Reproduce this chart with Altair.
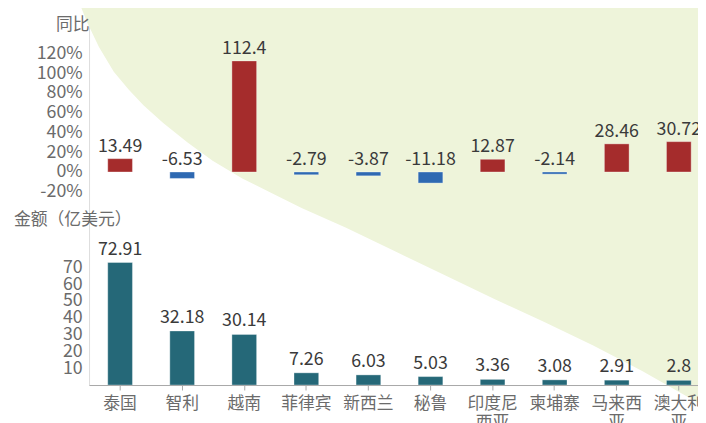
import altair as alt
import pandas as pd

countries = ["泰国", "智利", "越南", "菲律宾", "新西兰", "秘鲁", "印度尼西亚", "柬埔寨", "马来西亚", "澳大利亚"]
yoy = [13.49, -6.53, 112.4, -2.79, -3.87, -11.18, 12.87, -2.14, 28.46, 30.72]
amount = [72.91, 32.18, 30.14, 7.26, 6.03, 5.03, 3.36, 3.08, 2.91, 2.8]
yoy_ticks = [-20, 0, 20, 40, 60, 80, 100, 120]
amount_ticks = [10, 20, 30, 40, 50, 60, 70]

# decorative background curve (page pixels)
bg_x = [70, 80, 88, 100, 115, 130, 145, 165, 190, 215, 245, 275, 305, 350, 400, 450, 500, 550, 600, 650, 706, 730]
bg_y = [-10, 0, 20, 45, 70, 88, 104, 122, 142, 160, 178, 193, 208, 228, 252, 276, 300, 323, 347, 373, 405, 418]

FONT = "Noto Sans CJK SC"
RED, BLUE, TEAL = "#a52c2c", "#2e69b2", "#256878"
GREEN_BG = "#eef4da"
AX_COL = "#6b6b6b"
LBL_COL = "#3a3a3a"
W, H = 616, 379

df = pd.DataFrame({
    "country": countries,
    "yoy": yoy,
    "amount": amount,
    "yoy_label": [str(v) for v in yoy],
    "amt_label": [str(v) for v in amount],
})
df["yoy_pos"] = df["yoy"].clip(lower=0)
df["bar_color"] = [RED if v > 0 else BLUE for v in yoy]

bg = pd.DataFrame({"px": [x - 90 for x in bg_x], "py": [y - 8 for y in bg_y]})

band_scale = alt.Scale(domain=countries, range=[0, 628], paddingInner=0, paddingOuter=0)


def x_enc(with_axis=False):
    if with_axis:
        ax = alt.Axis(
            title=None, orient="bottom", labelAngle=0, labelFont=FONT, labelFontSize=17,
            labelColor=AX_COL, domainColor="#a8a8a8", tickColor="#a8a8a8", tickSize=5,
            labelPadding=6, labelBaseline="top", labelLineHeight=19, labelLimit=200,
            labelExpr="length(datum.label) > 3 ? [substring(datum.label, 0, 3), substring(datum.label, 3)] : datum.label",
            zindex=1,
        )
    else:
        ax = None
    return alt.X("country:N", sort=countries, scale=band_scale, axis=ax)


background = alt.Chart(bg).mark_area(color=GREEN_BG, opacity=1).encode(
    x=alt.X("px:Q", scale=alt.Scale(domain=[0, W], range=[0, W], nice=False, zero=False), axis=None),
    y=alt.Y("py:Q", scale=alt.Scale(domain=[0, H], range=[0, H], nice=False, zero=False), axis=None),
    y2=alt.datum(-12),
)

pct_scale = alt.Scale(domain=[-215.5, 163.5], nice=False, zero=False)
pct_axis = alt.Axis(
    values=yoy_ticks, labelExpr="datum.value + '%'", orient="left", grid=False, domain=False,
    ticks=False, labelFont=FONT, labelFontSize=18, labelColor=AX_COL, labelPadding=7,
    labelOverlap=False, labelFlush=False, labelBaseline="middle",
    title="同比", titleAngle=0, titleX=-17, titleY=14, titleAlign="center", titleBaseline="middle",
    titleFont=FONT, titleFontSize=17, titleFontWeight="normal", titleColor=AX_COL, zindex=1,
)
pct_bars = alt.Chart(df).mark_bar(size=25, stroke="#ffffff", strokeOpacity=0.35, strokeWidth=1).encode(
    x=x_enc(),
    y=alt.Y("yoy:Q", scale=pct_scale, axis=pct_axis),
    y2=alt.datum(0),
    color=alt.Color("bar_color:N", scale=None, legend=None),
)
pct_text = alt.Chart(df).mark_text(font=FONT, fontSize=18, color=LBL_COL, baseline="bottom", dy=-3).encode(
    x=x_enc(),
    y=alt.Y("yoy_pos:Q", scale=pct_scale, axis=None),
    text="yoy_label:N",
)

amt_scale = alt.Scale(domain=[0, 222.94], nice=False, zero=True)
amt_axis = alt.Axis(
    values=amount_ticks, orient="left", grid=False, domain=False, ticks=False,
    labelFont=FONT, labelFontSize=18, labelColor=AX_COL, labelPadding=7,
    labelOverlap=False, labelFlush=False, labelBaseline="middle",
    title="金额（亿美元）", titleAngle=0, titleX=-17, titleY=212, titleAlign="center",
    titleBaseline="middle", titleFont=FONT, titleFontSize=17, titleFontWeight="normal",
    titleColor=AX_COL, zindex=1,
)
amt_bars = alt.Chart(df).mark_bar(size=25, color=TEAL, stroke="#ffffff", strokeOpacity=0.35, strokeWidth=1).encode(
    x=x_enc(True),
    y=alt.Y("amount:Q", scale=amt_scale, axis=amt_axis),
    y2=alt.datum(0),
)
amt_text = alt.Chart(df).mark_text(font=FONT, fontSize=18, color=LBL_COL, baseline="bottom", dy=-4).encode(
    x=x_enc(),
    y=alt.Y("amount:Q", scale=amt_scale, axis=None),
    text="amt_label:N",
)

chart = alt.layer(background, pct_bars, pct_text, amt_bars, amt_text).resolve_scale(
    x="independent", y="independent"
).properties(
    width=W,
    height=H,
    autosize=alt.AutoSizeParams(type="none"),
    padding={"left": 82, "top": 0, "right": 0, "bottom": 36},
    title=alt.TitleParams(
        "2023 年我国水果及制品 TOP10 进口来源地", font=FONT, fontSize=26, fontWeight="bold",
        color="#111111", anchor="middle", offset=0,
    ),
).configure_view(stroke=None).configure(background="#ffffff")

chart.save("out.html", embed_options={"renderer": "svg", "actions": False})
